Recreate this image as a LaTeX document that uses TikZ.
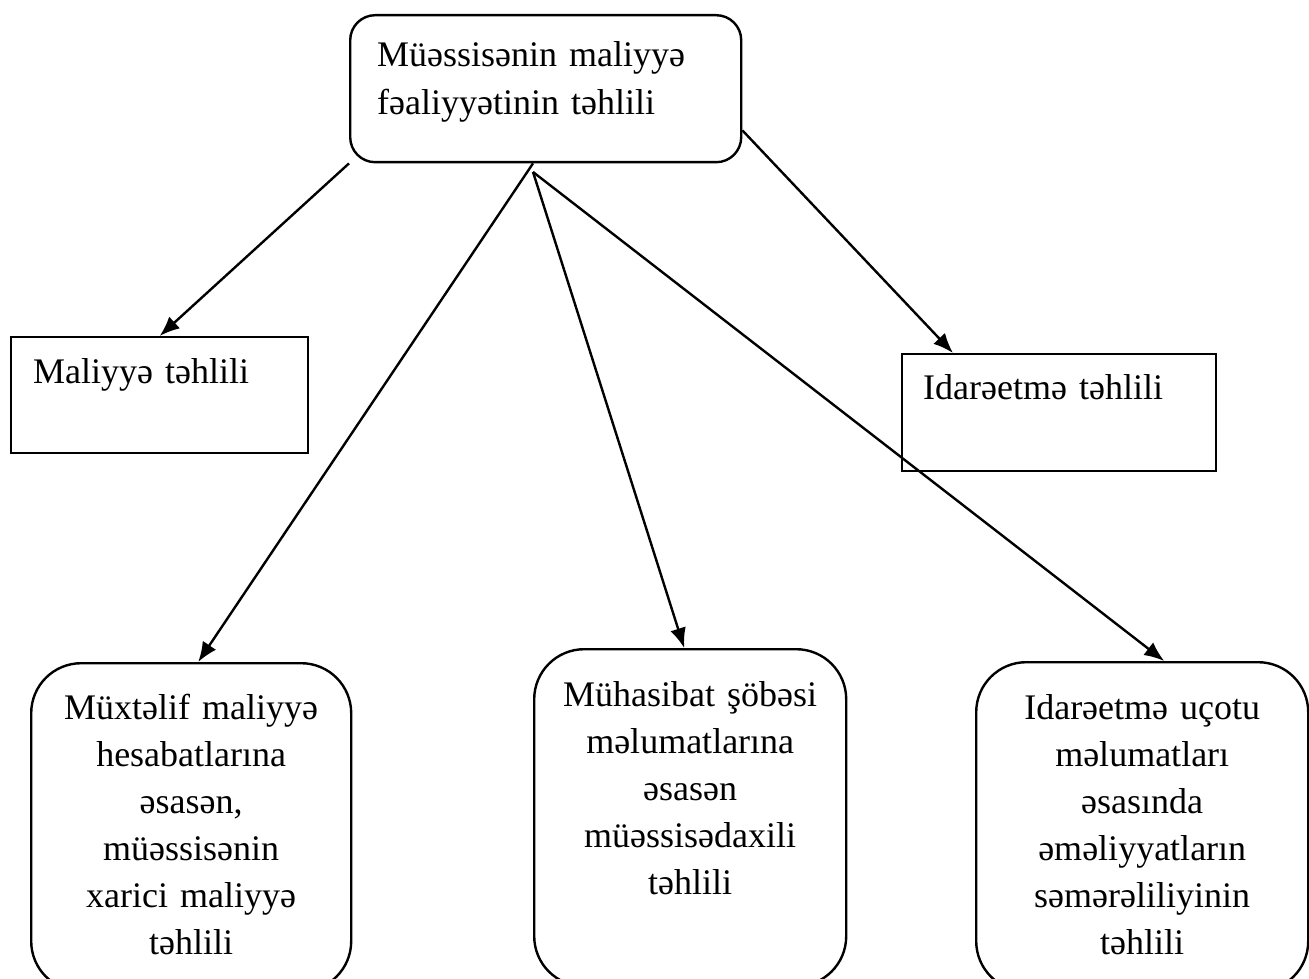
\documentclass[tikz,border=0pt]{standalone}
\usepackage{fontspec}
\setmainfont{Liberation Serif}
\usetikzlibrary{calc,positioning,arrows.meta}

\begin{document}
\begin{tikzpicture}[x=0.5pt, y=-0.5pt, line width=1.2pt,
		font=\fontsize{18}{23.5}\selectfont,
		sbox/.style = {draw, anchor=north west, align=left, inner ysep=0pt},
		rbox/.style = {draw, rounded corners=25pt, anchor=north west, align=center, inner xsep=5pt, inner ysep=0pt},
		arr/.style = {-{Latex[length=10pt,width=8pt]}}]
		\path[use as bounding box, clip] (0,0) rectangle (1309,978);
		\node[sbox, rounded corners=12.5pt, inner xsep=13.5pt, text width=168.5pt, text height=25.5pt, text depth=48pt, font=\fontsize{18}{24}\selectfont] (top) at (349,14) {Müəssisənin maliyyə\\fəaliyyətinin təhlili};
		\node[sbox, inner xsep=11pt, text width=126.5pt, text height=23pt, text depth=35pt] (fin) at (10,336) {Maliyyə təhlili};
		\node[sbox, inner xsep=10.5pt, text width=136pt, text height=22.5pt, text depth=36pt] (mgmt) at (901,353) {Idarəetmə təhlili};
		\node[rbox, text width=150pt, text height=28pt, text depth=136pt] (ext) at (30,662) {Müxtəlif maliyyə\\hesabatlarına\\əsasən,\\müəssisənin\\xarici maliyyə\\təhlili};
		\node[rbox, text width=146pt, text height=28.5pt, text depth=140pt] (acc) at (533,648) {Mühasibat şöbəsi\\məlumatlarına\\əsasən\\müəssisədaxili\\təhlili};
		\node[rbox, text width=156pt, text height=28.5pt, text depth=136pt] (mgmtacc) at (975,661) {Idarəetmə uçotu\\məlumatları\\əsasında\\əməliyyatların\\səmərəliliyinin\\təhlili};
		\coordinate (fork) at (533,172);
		\draw[arr] (top.south west) -- (fin.north);
		\draw[arr] (top.south -| fork) -- ($(ext.north)+(7,0)$);
		\draw[arr] (fork) -- ($(acc.north)+(-6,0)$);
		\draw[arr] (fork) -- ($(mgmtacc.north)+(22,0)$);
		\draw[arr] ($(top.south east)+(0,-33)$) -- ($(mgmt.north west)+(52,0)$);
	\end{tikzpicture}
\end{document}
